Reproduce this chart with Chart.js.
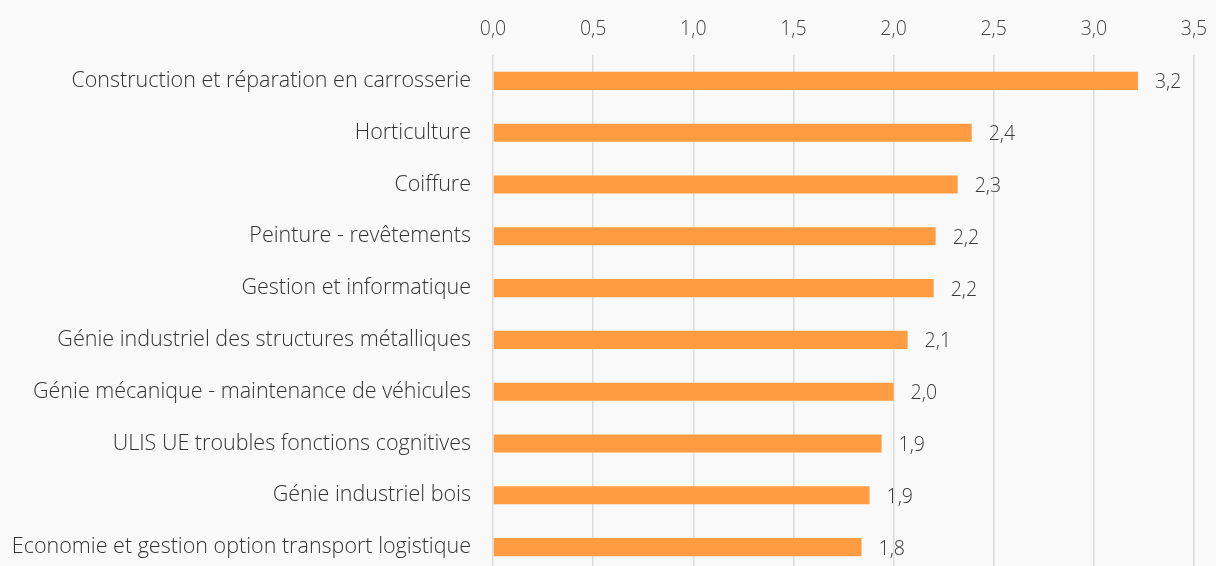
<!DOCTYPE html>
<html>
<head>
<meta charset="utf-8">
<script src="https://cdn.jsdelivr.net/npm/chart.js@4"></script>
<style>
  html, body { margin: 0; padding: 0; background: #f9f9f9; overflow: hidden; }
  canvas { display: block; }
</style>
</head>
<body>
<canvas id="canvas" width="1216" height="573"></canvas>
<script>
const categories = [
  "Construction et réparation en carrosserie",
  "Horticulture",
  "Coiffure",
  "Peinture - revêtements",
  "Gestion et informatique",
  "Génie industriel des structures métalliques",
  "Génie mécanique - maintenance de véhicules",
  "ULIS UE troubles fonctions cognitives",
  "Génie industriel bois",
  "Economie et gestion option transport logistique"
];
const values = [3.22, 2.39, 2.32, 2.21, 2.2, 2.07, 2.0, 1.94, 1.88, 1.84];

const fmt = v => v.toFixed(1).replace(".", ",");

// labels at the end of each bar
const barLabels = {
  id: "barLabels",
  afterDatasetsDraw(chart) {
    const ctx = chart.ctx;
    const meta = chart.getDatasetMeta(0);
    ctx.save();
    ctx.font = "300 19.5px 'Open Sans'";
    ctx.fillStyle = "#3a3a3a";
    ctx.textAlign = "left";
    ctx.textBaseline = "middle";
    meta.data.forEach((bar, i) => {
      ctx.fillText(fmt(values[i]), bar.x + 17, bar.y + 2);
    });
    ctx.restore();
  }
};

const ctx = document.getElementById("canvas");
const myChart = new Chart(ctx, {
  type: "bar",
  data: {
    labels: categories,
    datasets: [{
      data: values,
      backgroundColor: "#ff9b40",
      barPercentage: 0.7,
      categoryPercentage: 0.5
    }]
  },
  options: {
    indexAxis: "y",
    responsive: false,
    animation: false,
    layout: { padding: 0 },
    plugins: {
      legend: { display: false },
      tooltip: { enabled: false }
    },
    scales: {
      x: {
        position: "top",
        min: 0,
        max: 3.5,
        afterFit: s => { s.height = 55; s.paddingLeft = 0; s.paddingRight = 22; },
        ticks: {
          stepSize: 0.5,
          padding: 14,
          color: "#444",
          font: { family: "Open Sans", size: 19.5, weight: 300 },
          callback: v => fmt(v)
        },
        grid: { color: "#dcdcdc", lineWidth: 1.5, drawTicks: false },
        border: { display: false }
      },
      y: {
        afterFit: s => { s.width = 493; s.paddingTop = 0; s.paddingBottom = 0; },
        ticks: {
          padding: 14,
          color: "#333",
          font: { family: "Open Sans", size: 21.5, weight: 300 }
        },
        grid: { display: false },
        border: { display: false }
      }
    }
  },
  plugins: [barLabels]
});
</script>
</body>
</html>
